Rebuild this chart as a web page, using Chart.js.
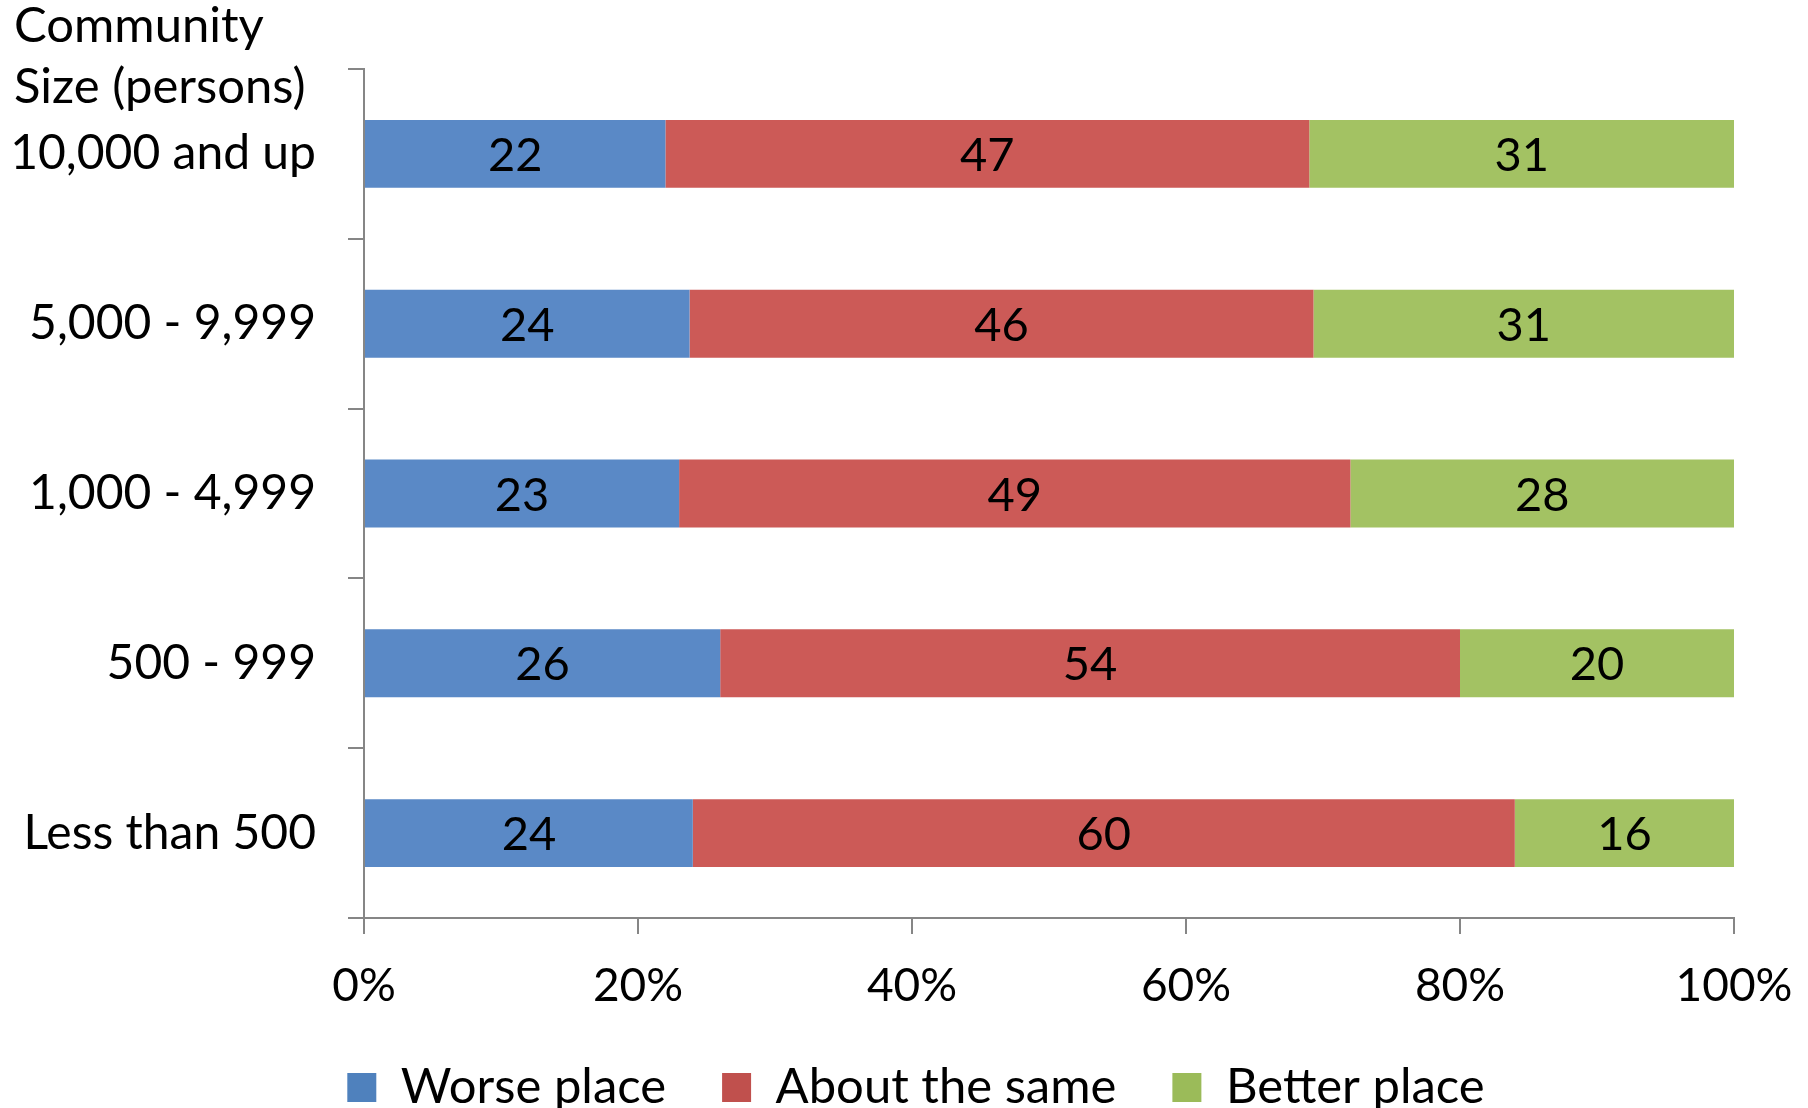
<!DOCTYPE html>
<html>
<head>
<meta charset="utf-8">
<script src="https://cdn.jsdelivr.net/npm/chart.js@4.4.0/dist/chart.umd.min.js"></script>
<style>
  html, body { margin: 0; padding: 0; background: #fff; }
  #wrap { width: 1808px; height: 1108px; }
</style>
</head>
<body>
<div id="wrap"><canvas id="myChart" width="1808" height="1108"></canvas></div>
<script>
// community size categories (top to bottom)
const sizes = ["10,000 and up", "5,000 - 9,999", "1,000 - 4,999", "500 - 999", "Less than 500"];

// responses (percent) per category
const worsePlace = [22, 24, 23, 26, 24];
const aboutSame = [47, 46, 49, 54, 60];
const betterPlace = [31, 31, 28, 20, 16];

const xTicks = ["0%", "20%", "40%", "60%", "80%", "100%"];
const axisTitle = ["Community", "Size (persons)"];

const seriesNames = ["Worse place", "About the same", "Better place"];
const barColors = ["#5A89C6", "#CC5A57", "#A3C263"];
const legendColors = ["#4F81BD", "#C0504D", "#9BBB59"];

const FONT = "Lato, 'Open Sans', sans-serif";

// 100% stacked: each row scaled to its own total
const allSeries = [worsePlace, aboutSame, betterPlace];
const totals = sizes.map((s, i) => allSeries.reduce((a, arr) => a + arr[i], 0));
function toShare(arr) {
    return arr.map((v, i) => v / totals[i] * 100);
}

// draws the raw number in the middle of each bar piece
const barValues = {
    id: 'barValues',
    afterDatasetsDraw(chart) {
        const ctx = chart.ctx;
        ctx.save();
        ctx.font = "47px " + FONT;
        ctx.fillStyle = "#000";
        ctx.textAlign = "center";
        ctx.textBaseline = "middle";
        chart.data.datasets.forEach((ds, di) => {
            const meta = chart.getDatasetMeta(di);
            meta.data.forEach((bar, i) => {
                const x = (bar.x + bar.base) / 2;
                ctx.fillText(String(ds.raw[i]), x, bar.y + 2);
            });
        });
        ctx.restore();
    }
};

// axis caption sitting above the category labels
const cornerTitle = {
    id: 'cornerTitle',
    afterLayout(chart) {
        // let the long category labels use the left margin too
        chart.scales.y.left = 0;
    },
    afterDraw(chart) {
        const ctx = chart.ctx;
        ctx.save();
        ctx.font = "49px " + FONT;
        ctx.fillStyle = "#000";
        ctx.textAlign = "left";
        ctx.textBaseline = "middle";
        axisTitle.forEach((line, i) => {
            ctx.fillText(line, 14, 26 + i * 61);
        });
        ctx.restore();
    }
};

new Chart("myChart", {
    type: "bar",
    data: {
        labels: sizes,
        datasets: allSeries.map((arr, i) => ({
            label: seriesNames[i],
            data: toShare(arr),
            raw: arr,
            backgroundColor: barColors[i],
            borderWidth: 0,
            categoryPercentage: 1,
            barPercentage: 0.4
        }))
    },
    options: {
        indexAxis: 'y',
        responsive: false,
        animation: false,
        layout: { padding: { top: 69, right: 0, left: 24, bottom: -14 } },
        scales: {
            x: {
                stacked: true,
                min: 0,
                max: 100,
                afterFit(scale) {
                    scale.height = 89;
                    scale.paddingLeft = 0;
                    scale.paddingRight = 74;
                },
                ticks: {
                    stepSize: 20,
                    padding: 25,
                    color: "#000",
                    font: { family: FONT, size: 46 },
                    callback: (v) => xTicks[v / 20]
                },
                grid: {
                    drawOnChartArea: false,
                    drawTicks: true,
                    tickLength: 16,
                    color: "#868686",
                    lineWidth: 2
                },
                border: { color: "#868686", width: 2 }
            },
            y: {
                stacked: true,
                afterFit(scale) { scale.width = 340; },
                ticks: {
                    padding: 32,
                    color: "#000",
                    font: { family: FONT, size: 48 }
                },
                grid: {
                    offset: true,
                    drawOnChartArea: false,
                    drawTicks: true,
                    tickLength: 16,
                    color: "#868686",
                    lineWidth: 2
                },
                border: { color: "#868686", width: 2 }
            }
        },
        plugins: {
            legend: {
                position: 'bottom',
                labels: {
                    color: "#000",
                    font: { family: FONT, size: 49 },
                    boxWidth: 29,
                    boxHeight: 29,
                    padding: 56,
                    generateLabels(chart) {
                        return seriesNames.map((n, i) => ({
                            text: n,
                            fillStyle: legendColors[i],
                            strokeStyle: legendColors[i],
                            lineWidth: 0,
                            datasetIndex: i
                        }));
                    }
                }
            },
            tooltip: { enabled: false }
        }
    },
    plugins: [barValues, cornerTitle]
});
</script>
</body>
</html>
